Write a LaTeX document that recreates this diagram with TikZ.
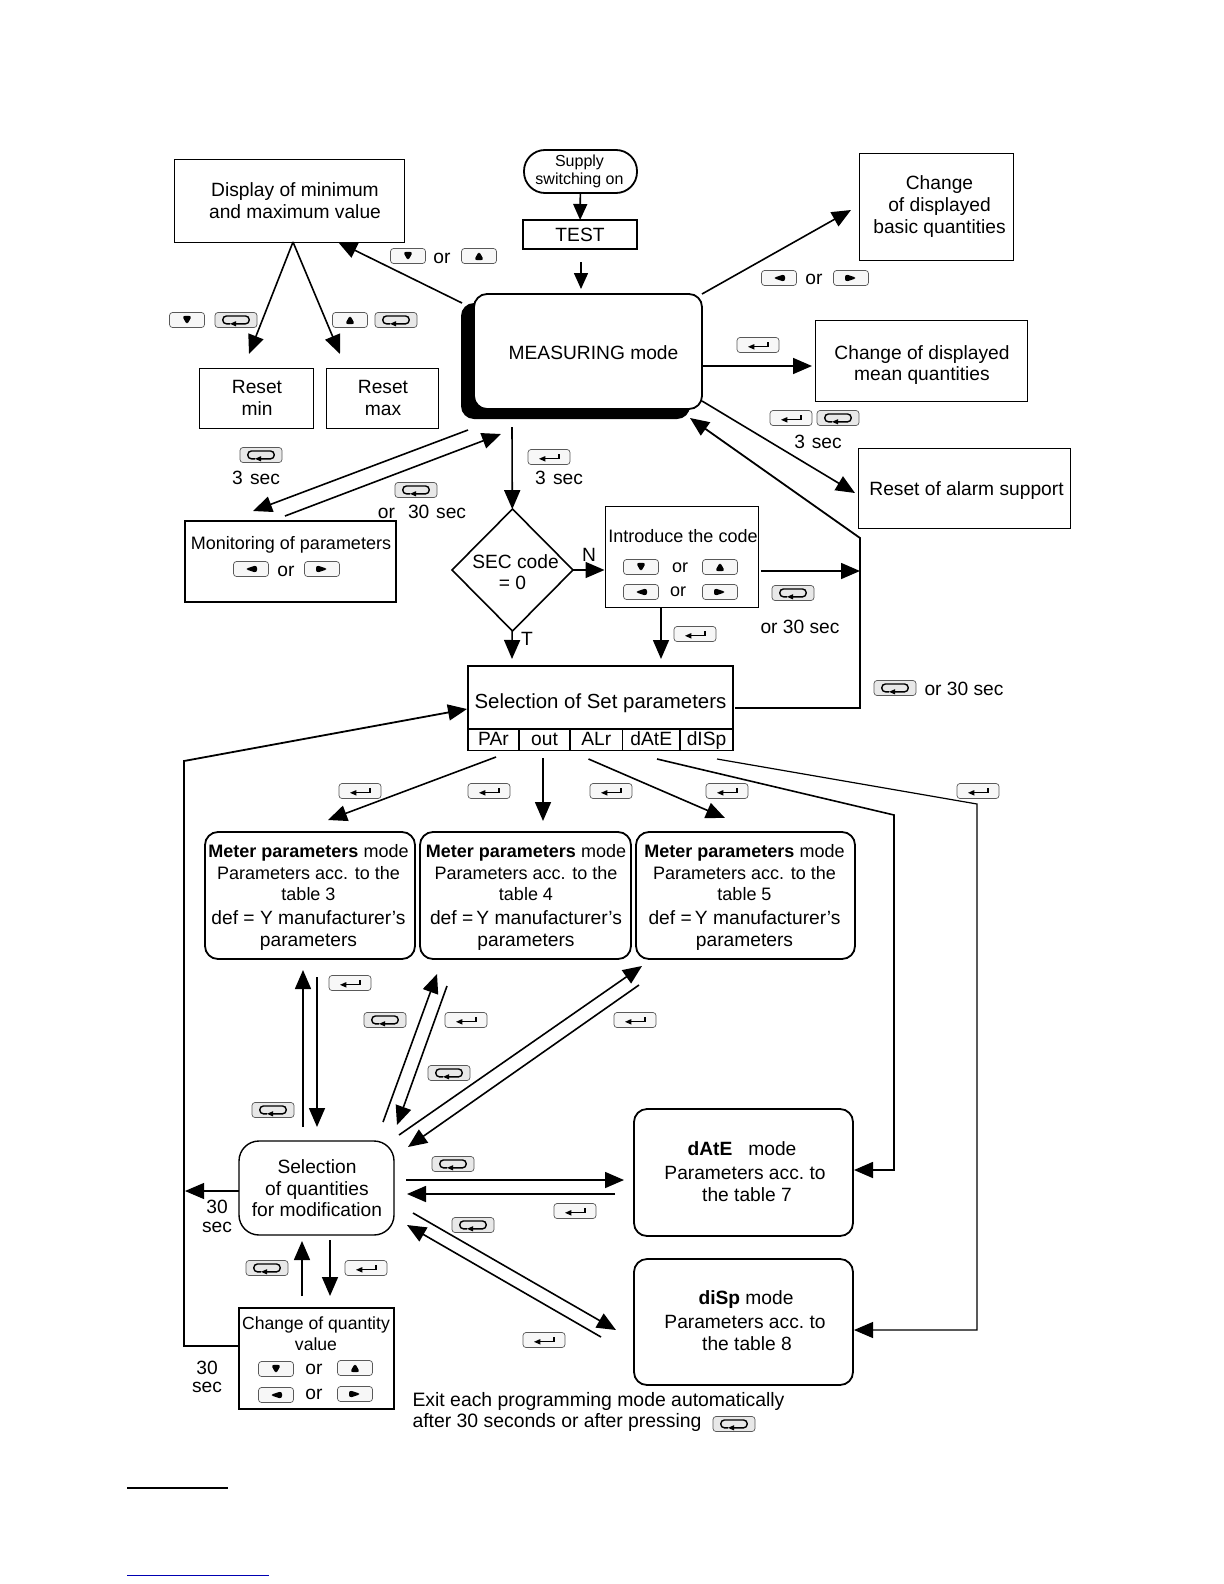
\documentclass[tikz,border=0pt]{standalone}
\usepackage{fontspec}
\setmainfont{Liberation Sans}
\usetikzlibrary{arrows.meta}
\usetikzlibrary{shapes.geometric}
\newcommand{\fnormal}{\fontsize{9.6pt}{10.8pt}\selectfont}
\newcommand{\fnarrow}{\fontsize{9pt}{10.8pt}\selectfont}
\tikzstyle{block} = [rectangle, draw=black, line width=0.5pt, fill=white, outer sep=0pt, inner sep=0pt, align=center, font=\fnormal]
\tikzstyle{heavy} = [block, line width=1pt]
\tikzstyle{cell} = [block, line width=0.8pt, minimum height=10.5pt, text height=7pt, text depth=2pt, font=\fnormal]
\tikzstyle{mode} = [block, rounded corners=6.5pt, line width=0.9pt]
\tikzstyle{txt} = [inner sep=0pt, outer sep=0pt, align=center, font=\fnormal]
\tikzstyle{txtn} = [txt, font=\fnarrow]
\tikzstyle{arrow} = [->, >={Stealth[length=9.5pt,width=8pt,inset=0pt]}, line width=0.8pt]
\tikzstyle{keybtn} = [rectangle, rounded corners=1.5pt, draw=black!65, line width=0.35pt, fill=black!3, minimum width=17.5pt, minimum height=7.5pt, inner sep=0pt, outer sep=0pt]
\tikzstyle{keydown} = [keybtn, path picture={\fill[black, shift={(path picture bounding box.center)}] (-2.5pt,2.1pt) -- (2.5pt,2.1pt) -- (0pt,-2.4pt) -- cycle;}]
\tikzstyle{keyup} = [keybtn, path picture={\fill[black, shift={(path picture bounding box.center)}] (-2.5pt,-2.1pt) -- (2.5pt,-2.1pt) -- (0pt,2.4pt) -- cycle;}]
\tikzstyle{keyleft} = [keybtn, path picture={\fill[black, shift={(path picture bounding box.center)}] (3pt,2pt) -- (3pt,-2pt) -- (-3pt,0pt) -- cycle;}]
\tikzstyle{keyright} = [keybtn, path picture={\fill[black, shift={(path picture bounding box.center)}] (-3pt,2pt) -- (-3pt,-2pt) -- (3pt,0pt) -- cycle;}]
\tikzstyle{keyenter} = [keybtn, minimum width=21pt, path picture={
  \begin{scope}[shift={(path picture bounding box.center)}, sharp corners]
    \draw[black, line width=0.6pt] (-3pt,-0.9pt) -- (5pt,-0.9pt) -- (5pt,1.4pt);
    \fill[black] (-5pt,-0.9pt) -- (-1.8pt,0.5pt) -- (-1.8pt,-2.3pt) -- cycle;
  \end{scope}}]
\tikzstyle{keyesc} = [keybtn, minimum width=21pt, fill=black!9, path picture={
  \begin{scope}[shift={(path picture bounding box.center)}]
    \draw[black, line width=0.7pt, rounded corners=1.8pt] (-3pt,-1.9pt) -- (-6.6pt,-1.9pt) -- (-6.6pt,2pt) -- (6.6pt,2pt) -- (6.6pt,-1.9pt) -- (-0.5pt,-1.9pt);
    \fill[black, sharp corners] (-3pt,-1.9pt) -- (0pt,-0.6pt) -- (0pt,-3.2pt) -- cycle;
  \end{scope}}]

\begin{document}
\begin{tikzpicture}[x=0.5pt, y=-0.5pt]
  \useasboundingbox (0,0) rectangle (1224,1584);

  % We start by placing the blocks
  \node (disp) [block, minimum width=115pt, minimum height=41.5pt] at (289,200.5) {\hspace*{6pt}Display of minimum\\\hspace*{6pt}and maximum value};
  \node (supply) [block, rounded corners=10.5pt, line width=0.9pt, minimum width=56.5pt, minimum height=21.5pt, font=\fontsize{8pt}{9pt}\selectfont] at (580.5,171.5) {\hspace*{-1pt}Supply\\\hspace*{-1pt}switching on};
  \node (test) [heavy, minimum width=57pt, minimum height=14.5pt] at (580,234.5) {TEST};
  \node (basic) [block, minimum width=77pt, minimum height=53.5pt] at (936,206.5) {\hspace*{3.5pt}Change\\\hspace*{3.5pt}of displayed\\\hspace*{3.5pt}basic quantities};
  \node (reset_min) [block, minimum width=57pt, minimum height=30pt] at (256,398) {\hspace*{1pt}Reset\\[0.5pt]\hspace*{1pt}min};
  \node (reset_max) [block, minimum width=56pt, minimum height=30pt] at (382,398) {\hspace*{1pt}Reset\\[0.5pt]\hspace*{1pt}max};
  \node (meas_shadow) [fill=black, rounded corners=6.5pt, minimum width=114.5pt, minimum height=58pt, inner sep=0pt, outer sep=0pt] at (575.5,361) {};
  \node (meas) [mode, minimum width=114pt, minimum height=57.5pt] at (588,351.5) {};
  \node (meas_txt) [txt] at (593.5,352.5) {MEASURING mode};
  \node (mean) [block, minimum width=106pt, minimum height=40.5pt] at (921,360.5) {};
  \node (mean_txt) [txt] at (922,365) {Change of displayed\\mean quantities};
  \node (alarm) [block, minimum width=106pt, minimum height=40pt] at (964,488) {};
  \node (alarm_txt) [txt] at (966.5,491) {Reset of alarm support};
  \node (monitor) [block, line width=0.7pt, minimum width=105.5pt, minimum height=40.5pt] at (290.5,561.5) {};
  \node (monitor_txt) [txtn] at (291,545) {Monitoring of parameters};
  \node (sec) [diamond, draw=black, line width=0.8pt, fill=white, minimum width=60.5pt, minimum height=61pt, aspect=1, inner sep=0pt, outer sep=0pt] at (512.5,570) {};
  \node (sec_txt) [txt] at (512.5,572) {\hspace*{3pt}SEC code\\= 0};
  \node (intro) [block, minimum width=76.5pt, minimum height=50.5pt] at (681.5,556.5) {};
  \node (intro_txt) [txtn] at (683,536) {Introduce the code};
  \node (sel) [heavy, minimum width=132.5pt, minimum height=31.5pt] at (600.5,697.5) {};
  \node (sel_txt) [txt, font=\fontsize{10.2pt}{12pt}\selectfont] at (600.5,703) {Selection of Set parameters};

  % The five cells under the selection block
  \node (cell_par) [cell, minimum width=25.5pt] at (493.5,740) {PAr};
  \node (cell_out) [cell, minimum width=25.5pt] at (544.5,740) {out};
  \node (cell_alr) [cell, minimum width=26.25pt] at (596.25,740) {ALr};
  \node (cell_date) [cell, minimum width=28.75pt] at (651.25,740) {dAtE};
  \node (cell_disp) [cell, minimum width=26.5pt] at (706.5,740) {dISp};

  \node (meter_a) [mode, minimum width=105pt, minimum height=63.5pt] at (310,895.5) {};
  \node (meter_a_txt) [txtn] at (308.5,897.5) {\textbf{Meter parameters} mode\\Parameters acc. to the\\table 3\\[1.3pt]{\fnormal def = Y manufacturer’s}\\{\fnormal parameters}};
  \node (meter_b) [mode, minimum width=105.5pt, minimum height=63.5pt] at (525.5,895.5) {};
  \node (meter_b_txt) [txtn] at (526,897.5) {\textbf{Meter parameters} mode\\Parameters acc. to the\\table 4\\[1.3pt]{\fnormal def =\,Y manufacturer’s}\\{\fnormal parameters}};
  \node (meter_c) [mode, minimum width=109.5pt, minimum height=63.5pt] at (745.5,895.5) {};
  \node (meter_c_txt) [txtn] at (744.5,897.5) {\textbf{Meter parameters} mode\\Parameters acc. to the\\table 5\\[1.3pt]{\fnormal def =\,Y manufacturer’s}\\{\fnormal parameters}};
  \node (date) [mode, minimum width=109.5pt, minimum height=63.5pt] at (743.5,1172.5) {};
  \node (date_txt) [txt] at (747,1172) {\hspace*{-5pt}\textbf{dAtE}\hspace{8pt}mode\\[1.2pt]\hspace*{-2pt}Parameters acc.\ to\\[0.2pt]the table 7};
  \node (dsp) [mode, minimum width=109.5pt, minimum height=63pt] at (743.5,1322) {};
  \node (dsp_txt) [txt] at (747,1321) {\hspace*{-1pt}\textbf{diSp} mode\\[1.2pt]\hspace*{-2pt}Parameters acc.\ to\\[0.2pt]the table 8};
  \node (quant) [mode, rounded corners=10pt, line width=0.7pt, minimum width=77.5pt, minimum height=47pt] at (316.5,1188) {};
  \node (quant_txt) [txt] at (317,1188.5) {Selection\\of quantities\\for modification};
  \node (change) [block, line width=0.8pt, minimum width=77.5pt, minimum height=50.5pt] at (316.5,1358.5) {};
  \node (change_txt) [txt, font=\fontsize{8.8pt}{10.8pt}\selectfont] at (316,1333.5) {Change of quantity\\value};

  % Keys and loose labels
  \node (k_disp_down) [keydown] at (408,256) {};
  \node (t_disp_or) [txt] at (442,258) {or};
  \node (k_disp_up) [keyup] at (479,256) {};
  \node (k_min_down) [keydown] at (187,320) {};
  \node (k_min_esc) [keyesc] at (236,320) {};
  \node (k_max_up) [keyup] at (350,320) {};
  \node (k_max_esc) [keyesc] at (396,320) {};
  \node (k_basic_left) [keyleft] at (779,278) {};
  \node (t_basic_or) [txt] at (814,279) {or};
  \node (k_basic_right) [keyright] at (851,278) {};
  \node (k_mean) [keyenter] at (758,345) {};
  \node (k_alarm_enter) [keyenter] at (791,418) {};
  \node (k_alarm_esc) [keyesc] at (838,418) {};
  \node (t_alarm) [txt] at (818,442) {3\hspace{3.4pt}sec};
  \node (k_reset) [keyesc] at (261,455) {};
  \node (t_reset) [txt] at (256,478) {3\hspace{3.6pt}sec};
  \node (k_sec) [keyenter] at (549,457) {};
  \node (t_sec) [txt] at (559,478) {3\hspace{3.6pt}sec};
  \node (k_mon_esc) [keyesc] at (416,490) {};
  \node (t_mon) [txt] at (422,511.5) {or\hspace{6.5pt}30\hspace{3.4pt}sec};
  \node (k_mon_left) [keyleft] at (251,569) {};
  \node (t_mon_or) [txt] at (286,571) {or};
  \node (k_mon_right) [keyright] at (322,569) {};
  \node (t_n) [txt] at (589,555) {N};
  \node (t_t) [txt] at (527,639) {T};
  \node (k_intro_down) [keydown] at (641,567) {};
  \node (t_intro_or_a) [txtn] at (680,568) {or};
  \node (k_intro_up) [keyup] at (720,567) {};
  \node (k_intro_left) [keyleft] at (641,592) {};
  \node (t_intro_or_b) [txtn] at (678,592) {or};
  \node (k_intro_right) [keyright] at (720,592) {};
  \node (k_intro_esc) [keyesc] at (793,593) {};
  \node (t_intro) [txt] at (800,627) {or 30 sec};
  \node (k_intro_enter) [keyenter] at (695,634) {};
  \node (k_sel_esc) [keyesc] at (895,688) {};
  \node (t_sel) [txt] at (964,689) {or 30 sec};
  \node (k_par) [keyenter] at (360,791) {};
  \node (k_out) [keyenter] at (489,791) {};
  \node (k_alr) [keyenter] at (611,791) {};
  \node (k_date) [keyenter] at (727,791) {};
  \node (k_disp) [keyenter] at (978,791) {};
  \node (k_a_enter) [keyenter] at (350,983) {};
  \node (k_a_esc) [keyesc] at (273,1110) {};
  \node (k_b_esc) [keyesc] at (385,1020) {};
  \node (k_b_enter) [keyenter] at (466,1020) {};
  \node (k_c_esc) [keyesc] at (449,1073) {};
  \node (k_c_enter) [keyenter] at (635,1020) {};
  \node (k_date_esc) [keyesc] at (453,1164) {};
  \node (k_date_enter) [keyenter] at (575,1211) {};
  \node (k_dsp_esc) [keyesc] at (473,1225) {};
  \node (k_dsp_enter) [keyenter] at (544,1340) {};
  \node (t_quant) [txt] at (217,1216.5) {30\\[-1.5pt]sec};
  \node (k_chg_esc) [keyesc] at (267,1268) {};
  \node (k_chg_enter) [keyenter] at (366,1268) {};
  \node (t_change) [txt] at (207,1377) {30\\[-1.5pt]sec};
  \node (k_chg_down) [keydown] at (276,1369) {};
  \node (t_chg_or_a) [txt] at (314,1369) {or};
  \node (k_chg_up) [keyup] at (355,1368) {};
  \node (k_chg_left) [keyleft] at (276,1395) {};
  \node (t_chg_or_b) [txt] at (314,1394) {or};
  \node (k_chg_right) [keyright] at (355,1394) {};
  \node (t_exit) [txt, align=left, anchor=west, font=\fontsize{9.7pt}{10.8pt}\selectfont] at (412.5,1412) {Exit each programming mode automatically\\after 30 seconds or after pressing};
  \node (k_exit) [keyesc] at (734,1424) {};

  % Free ends of the connectors
  \coordinate (test_gap) at (581,262);
  \coordinate (meas_top) at (581,289);
  \coordinate (meas_nw) at (462,303);
  \coordinate (disp_in) at (338,242);
  \coordinate (disp_apex) at (293,242);
  \coordinate (min_in) at (249,354);
  \coordinate (max_in) at (340,354);
  \coordinate (meas_ne) at (702,294);
  \coordinate (basic_in) at (851,210);
  \coordinate (meas_e) at (702,366);
  \coordinate (mean_in) at (812,366);
  \coordinate (meas_se) at (702,401);
  \coordinate (alarm_in) at (855,493);
  \coordinate (meas_sw) at (468,430);
  \coordinate (mon_in) at (253,511);
  \coordinate (mon_out) at (285,516);
  \coordinate (meas_in) at (501,434);
  \coordinate (meas_s) at (512,427);
  \coordinate (intro_w) at (604.5,570);
  \coordinate (intro_out) at (761,571);
  \coordinate (bus_in) at (860,571);
  \coordinate (intro_s) at (661,607);
  \coordinate (sel_in) at (661,659);
  \coordinate (sec_out) at (512,659);
  \coordinate (sel_out) at (735,708);
  \coordinate (bus_low) at (860,708);
  \coordinate (bus_top) at (860,538);
  \coordinate (meas_back) at (690,418);
  \coordinate (par_out) at (496,757);
  \coordinate (a_in) at (328,820);
  \coordinate (out_out) at (543,758);
  \coordinate (b_in) at (543,821);
  \coordinate (alr_out) at (588.5,759);
  \coordinate (c_in) at (725,818);
  \coordinate (date_out) at (657,759);
  \coordinate (date_bend) at (894,815);
  \coordinate (date_low) at (894,1170);
  \coordinate (date_in) at (854,1170);
  \coordinate (disp_out) at (717,759);
  \coordinate (disp_bend) at (977,804);
  \coordinate (disp_low) at (977,1330);
  \coordinate (dsp_in) at (854,1330);
  \coordinate (a_up_s) at (303,1127);
  \coordinate (a_up_e) at (303,970);
  \coordinate (a_dn_s) at (317,977);
  \coordinate (a_dn_e) at (317,1127);
  \coordinate (b_up_s) at (383,1122);
  \coordinate (b_up_e) at (437,974);
  \coordinate (b_dn_s) at (447,986);
  \coordinate (b_dn_e) at (397,1125);
  \coordinate (c_up_s) at (399,1135);
  \coordinate (c_up_e) at (642,966);
  \coordinate (c_dn_s) at (639,985);
  \coordinate (c_dn_e) at (408,1147);
  \coordinate (d_to_s) at (406,1180);
  \coordinate (d_to_e) at (624,1180);
  \coordinate (d_bk_s) at (615,1194);
  \coordinate (d_bk_e) at (407,1194);
  \coordinate (e_to_s) at (413,1213);
  \coordinate (e_to_e) at (616,1330);
  \coordinate (e_bk_s) at (601,1337);
  \coordinate (e_bk_e) at (407,1225);
  \coordinate (left_t) at (184,761);
  \coordinate (left_b) at (184,1346);
  \coordinate (left_q) at (185,1191);
  \coordinate (quant_w) at (239,1191);
  \coordinate (change_w) at (239,1346);
  \coordinate (sel_w) at (467,709);
  \coordinate (q_up_s) at (302,1296);
  \coordinate (q_up_e) at (302,1241);
  \coordinate (q_dn_s) at (330,1240);
  \coordinate (q_dn_e) at (330,1296);

  % Draw the connections between blocks
  \draw [arrow, >={Stealth[length=8pt,width=7pt,inset=0pt]}] (supply) -- (test);
  \draw [arrow, >={Stealth[length=8pt,width=7pt,inset=0pt]}] (test_gap) -- (meas_top);
  \draw [arrow] (meas_nw) -- (disp_in);
  \draw [arrow] (disp_apex) -- (min_in);
  \draw [arrow] (disp_apex) -- (max_in);
  \draw [arrow] (meas_ne) -- (basic_in);
  \draw [arrow] (meas_e) -- (mean_in);
  \draw [arrow] (meas_se) -- (alarm_in);
  \draw [arrow] (meas_sw) -- (mon_in);
  \draw [arrow] (mon_out) -- (meas_in);
  \draw [arrow] (meas_s) -- (sec);
  \draw [arrow] (sec.east) -- (intro_w);
  \draw [arrow] (sec) -- (sec_out);
  \draw [arrow] (intro_out) -- (bus_in);
  \draw [arrow] (intro_s) -- (sel_in);
  \draw [arrow, line width=0.9pt] (sel_out) -- (bus_low) -- (bus_top) -- (meas_back);
  \draw [arrow] (par_out) -- (a_in);
  \draw [arrow] (out_out) -- (b_in);
  \draw [arrow] (alr_out) -- (c_in);
  \draw [arrow] (date_out) -- (date_bend) -- (date_low) -- (date_in);
  \draw [arrow, line width=0.6pt] (disp_out) -- (disp_bend) -- (disp_low) -- (dsp_in);
  \draw [arrow] (a_up_s) -- (a_up_e);
  \draw [arrow] (a_dn_s) -- (a_dn_e);
  \draw [arrow] (b_up_s) -- (b_up_e);
  \draw [arrow] (b_dn_s) -- (b_dn_e);
  \draw [arrow] (c_up_s) -- (c_up_e);
  \draw [arrow] (c_dn_s) -- (c_dn_e);
  \draw [arrow] (d_to_s) -- (d_to_e);
  \draw [arrow] (d_bk_s) -- (d_bk_e);
  \draw [arrow] (e_to_s) -- (e_to_e);
  \draw [arrow] (e_bk_s) -- (e_bk_e);
  \draw [arrow, line width=0.6pt] (quant_w) -- (left_q);
  \draw [arrow, line width=0.9pt] (change_w) -- (left_b) -- (left_t) -- (sel_w);
  \draw [arrow] (q_up_s) -- (q_up_e);
  \draw [arrow] (q_dn_s) -- (q_dn_e);

  % Rules at the foot of the page
  \coordinate (rule_a) at (127,1488);
  \coordinate (rule_b) at (228,1488);
  \coordinate (rule_c) at (127,1575);
  \coordinate (rule_d) at (269,1575);
  \draw [line width=1pt] (rule_a) -- (rule_b);
  \draw [line width=0.5pt, blue!70!black] (rule_c) -- (rule_d);
\end{tikzpicture}
\end{document}
